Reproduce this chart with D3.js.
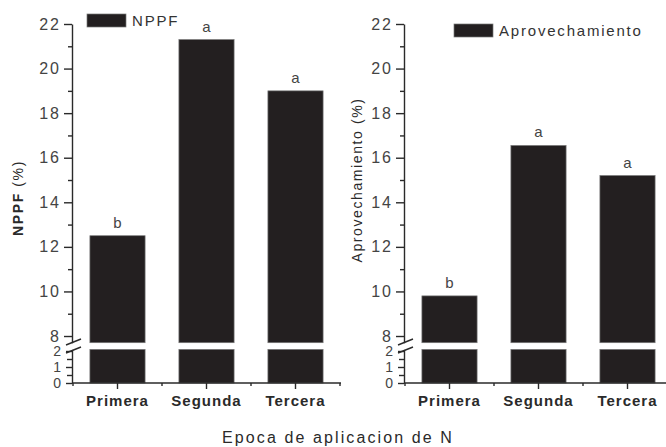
<!DOCTYPE html>
<html>
<head>
<meta charset="utf-8">
<script src="https://cdn.jsdelivr.net/npm/d3@7"></script>
<style>
  body { margin: 0; background: #fff; }
  svg { display: block; font-family: "Liberation Sans", Arial, sans-serif; }
  .axis path, .axis line { stroke: #2a2a2a; stroke-width: 1.4; }
  .axis text { fill: #444; }
</style>
</head>
<body>
<div id="chart"></div>
<script>
  var categories = ["Primera", "Segunda", "Tercera"];
  var nppf = [12.5, 21.3, 19.0];
  var nppfLetters = ["b", "a", "a"];
  var aprov = [9.8, 16.55, 15.2];
  var aprovLetters = ["b", "a", "a"];
  var upperTicks = [8, 10, 12, 14, 16, 18, 20, 22];
  var upperMinor = [9, 11, 13, 15, 17, 19, 21];
  var lowerTicks = [0, 1, 2];
  var lowerMinor = [0.5, 1.5];

  var width = 666;
  var height = 447;

  var svg = d3.select("#chart")
    .append("svg")
    .attr("width", width)
    .attr("height", height);

  // broken y axis: upper part 7.7..22, lower part 0..2.1
  var yUpper = d3.scaleLinear().domain([7.7, 22]).range([342.7, 24]);
  var yLower = d3.scaleLinear().domain([0, 2.1]).range([383, 349.4]);

  function drawPanel(axisX, values, letters, legendText, legendX, legendY) {
    var g = svg.append("g");

    var x = d3.scaleBand()
      .domain(categories)
      .range([axisX + 1, axisX + 268])
      .paddingInner(0.38)
      .paddingOuter(0.19);

    // bars, upper piece
    g.selectAll(".barUp")
      .data(values)
      .enter()
      .append("rect")
      .attr("x", (d, i) => x(categories[i]))
      .attr("width", x.bandwidth())
      .attr("y", d => yUpper(d))
      .attr("height", d => yUpper(7.7) - yUpper(d))
      .attr("fill", "#231f20")
      .attr("stroke", "#777")
      .attr("stroke-width", 0.7);

    // bars, lower piece
    g.selectAll(".barLow")
      .data(values)
      .enter()
      .append("rect")
      .attr("x", (d, i) => x(categories[i]))
      .attr("width", x.bandwidth())
      .attr("y", d => yLower(Math.min(d, 2.1)))
      .attr("height", d => yLower(0) - yLower(Math.min(d, 2.1)))
      .attr("fill", "#231f20")
      .attr("stroke", "#777")
      .attr("stroke-width", 0.7);

    // letters over bars
    g.selectAll(".letter")
      .data(values)
      .enter()
      .append("text")
      .attr("x", (d, i) => x(categories[i]) + x.bandwidth() / 2)
      .attr("y", d => yUpper(d) - 8)
      .attr("text-anchor", "middle")
      .style("font-size", "15px")
      .style("fill", "#444")
      .text((d, i) => letters[i]);

    // y axis upper
    var ax1 = g.append("g")
      .attr("class", "axis")
      .attr("transform", "translate(" + axisX + ",0)")
      .call(d3.axisLeft(yUpper).tickValues(upperTicks).tickSize(8).tickSizeOuter(0).tickPadding(3));
    ax1.selectAll("text").style("font-size", "16px").style("letter-spacing", "2px");
    g.append("g")
      .attr("class", "axis")
      .attr("transform", "translate(" + axisX + ",0)")
      .call(d3.axisLeft(yUpper).tickValues(upperMinor).tickSize(4).tickFormat(""))
      .select(".domain").remove();

    // y axis lower
    var ax2 = g.append("g")
      .attr("class", "axis")
      .attr("transform", "translate(" + axisX + ",0)")
      .call(d3.axisLeft(yLower).tickValues(lowerTicks).tickFormat(d3.format("d"))
        .tickSize(6).tickSizeOuter(0).tickPadding(4));
    ax2.selectAll("text").style("font-size", "14px").style("letter-spacing", "1px");
    g.append("g")
      .attr("class", "axis")
      .attr("transform", "translate(" + axisX + ",0)")
      .call(d3.axisLeft(yLower).tickValues(lowerMinor).tickSize(5).tickFormat(""))
      .select(".domain").remove();

    // break marks
    [0, 8].forEach(function(off) {
      g.append("line")
        .attr("x1", axisX - 6).attr("y1", 345 + off)
        .attr("x2", axisX + 9).attr("y2", 339 + off)
        .attr("stroke", "#2a2a2a")
        .attr("stroke-width", 1.4);
    });

    // x axis
    var ax3 = g.append("g")
      .attr("class", "axis")
      .attr("transform", "translate(0," + yLower(0) + ")")
      .call(d3.axisBottom(x).tickSize(6).tickSizeOuter(0).tickPadding(6));
    ax3.select(".domain").attr("d", "M" + axisX + ",0H" + (axisX + 269));
    ax3.selectAll("text")
      .style("font-size", "15px")
      .style("font-weight", "bold")
      .style("letter-spacing", "1px")
      .style("fill", "#2a2a2a");

    var bounds = d3.range(categories.length + 1).map(i => x.range()[0] + i * x.step());
    g.selectAll(".bound")
      .data(bounds)
      .enter()
      .append("line")
      .attr("x1", d => d).attr("x2", d => d)
      .attr("y1", yLower(0)).attr("y2", yLower(0) + 3)
      .attr("stroke", "#2a2a2a")
      .attr("stroke-width", 1.4);

    // legend
    g.append("rect")
      .attr("x", legendX).attr("y", legendY)
      .attr("width", 39).attr("height", 13)
      .attr("fill", "#231f20")
      .attr("stroke", "#777")
      .attr("stroke-width", 0.7);
    g.append("text")
      .attr("x", legendX + 45)
      .attr("y", legendY + 12)
      .style("font-size", "15px")
      .style("letter-spacing", "1.8px")
      .style("fill", "#333")
      .text(legendText);

    return g;
  }

  drawPanel(72, nppf, nppfLetters, "NPPF", 87, 14);
  drawPanel(404, aprov, aprovLetters, "Aprovechamiento", 454, 24);

  // y titles
  var t1 = svg.append("text")
    .attr("transform", "translate(23,198) rotate(-90)")
    .attr("text-anchor", "middle")
    .style("font-size", "14px")
    .style("letter-spacing", "1.6px")
    .style("fill", "#2a2a2a");
  t1.append("tspan").style("font-weight", "bold").text("NPPF");
  t1.append("tspan").text(" (%)");

  svg.append("text")
    .attr("transform", "translate(362,180) rotate(-90)")
    .attr("text-anchor", "middle")
    .style("font-size", "14px")
    .style("letter-spacing", "1.6px")
    .style("fill", "#2a2a2a")
    .text("Aprovechamiento (%)");

  // x title
  svg.append("text")
    .attr("x", 338)
    .attr("y", 443)
    .attr("text-anchor", "middle")
    .style("font-size", "16px")
    .style("letter-spacing", "2.1px")
    .style("fill", "#2a2a2a")
    .text("Epoca de aplicacion de N");
</script>
</body>
</html>
